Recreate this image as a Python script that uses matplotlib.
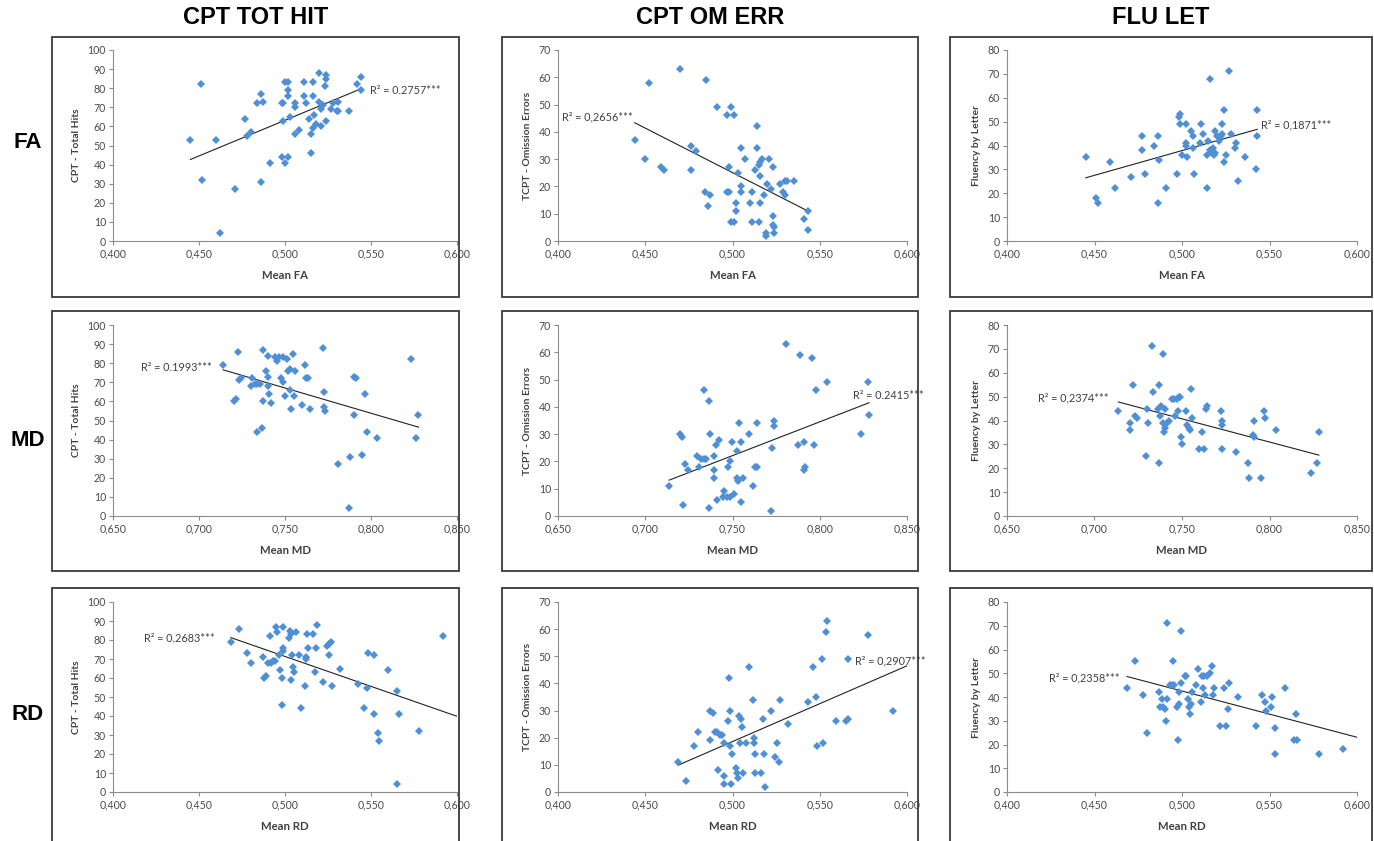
import numpy as np
import matplotlib
matplotlib.use("Agg")
import matplotlib.pyplot as plt
from matplotlib.patches import Rectangle
from matplotlib.ticker import FuncFormatter, MultipleLocator

# --- dados ------------------------------------------------------------
col_titles = ["CPT TOT HIT", "CPT OM ERR", "FLU LET"]
row_labels = ["FA", "MD", "RD"]
y_labels = ["CPT - Total Hits", "TCPT - Omission Errors", "Fluency by Letter"]
x_labels = ["Mean FA", "Mean MD", "Mean RD"]
r2_texts = [
    ["R² = 0.2757***", "R² = 0,2656***", "R² = 0,1871***"],
    ["R² = 0.1993***", "R² = 0.2415***", "R² = 0,2374***"],
    ["R² = 0.2683***", "R² = 0,2907***", "R² = 0,2358***"],
]

fa_hits_x = [0.445, 0.451, 0.452, 0.460, 0.462, 0.471, 0.477, 0.478, 0.480, 0.484, 0.486, 0.487, 0.486, 0.491,
             0.498, 0.499, 0.499, 0.498, 0.500, 0.502, 0.500, 0.502, 0.502, 0.502, 0.503, 0.506, 0.506, 0.506,
             0.508, 0.511, 0.511, 0.512, 0.516, 0.516, 0.514, 0.515, 0.515, 0.517, 0.516, 0.518, 0.520, 0.520,
             0.521, 0.521, 0.522, 0.523, 0.524, 0.524, 0.524, 0.527, 0.528, 0.530, 0.531, 0.531, 0.537, 0.542,
             0.544, 0.544]
fa_hits_y = [53, 82, 32, 53, 4, 27, 64, 55, 57, 72, 77, 73, 31, 41,
             72, 72, 63, 44, 41, 44, 83, 83, 79, 76, 65, 72, 70, 56,
             58, 83, 76, 72, 83, 76, 64, 56, 46, 66, 59, 61, 73, 88,
             69, 60, 71, 81, 87, 85, 63, 69, 72, 68, 73, 68, 68, 82,
             86, 79]

fa_om_x = [0.444, 0.450, 0.452, 0.459, 0.461, 0.470, 0.476, 0.479, 0.476, 0.484, 0.486, 0.487, 0.485, 0.491,
           0.497, 0.498, 0.499, 0.501, 0.497, 0.498, 0.499, 0.501, 0.502, 0.502, 0.503, 0.505, 0.507, 0.505,
           0.505, 0.510, 0.511, 0.511, 0.514, 0.514, 0.513, 0.515, 0.516, 0.515, 0.516, 0.517, 0.516, 0.518,
           0.519, 0.519, 0.521, 0.520, 0.522, 0.523, 0.523, 0.523, 0.524, 0.524, 0.527, 0.529, 0.530, 0.530,
           0.531, 0.535, 0.541, 0.543, 0.543]
fa_om_y = [37, 30, 58, 27, 26, 63, 35, 33, 26, 18, 13, 17, 59, 49,
           46, 27, 49, 46, 18, 18, 7, 7, 14, 11, 25, 34, 30, 20,
           18, 14, 7, 18, 42, 34, 26, 7, 14, 28, 29, 30, 24, 17,
           3, 2, 30, 21, 19, 9, 27, 6, 5, 3, 21, 18, 22, 17,
           22, 22, 8, 11, 4]

fa_flu_x = [0.445, 0.451, 0.452, 0.459, 0.4615, 0.471, 0.477, 0.477, 0.479, 0.484, 0.486, 0.487, 0.486, 0.491,
            0.497, 0.498, 0.499, 0.499, 0.500, 0.502, 0.502, 0.502, 0.503, 0.505, 0.506, 0.506, 0.507, 0.511,
            0.510, 0.512, 0.5145, 0.514, 0.515, 0.516, 0.516, 0.517, 0.5175, 0.518, 0.519, 0.519, 0.520, 0.521,
            0.522, 0.523, 0.523, 0.524, 0.524, 0.525, 0.527, 0.528, 0.530, 0.531, 0.532, 0.536, 0.542, 0.543,
            0.543]
fa_flu_y = [35, 18, 16, 33, 22, 27, 44, 38, 28, 40, 44, 34, 16, 22,
            28, 52, 53, 49, 36, 49, 41, 40, 35, 46, 44, 39, 28, 49,
            41, 45, 22, 36, 42, 68, 38, 37, 39, 36, 37, 46, 44, 42,
            44, 49, 45, 55, 33, 36, 71, 45, 39, 41, 25, 35, 30, 55,
            44]

md_hits_x = [0.714, 0.7206, 0.7216, 0.7225, 0.7235, 0.7245, 0.730, 0.731, 0.7324, 0.734, 0.7355, 0.734, 0.7367,
             0.7374, 0.7374, 0.739, 0.740, 0.740, 0.7403, 0.7405, 0.742, 0.7444, 0.7455, 0.7467, 0.7475, 0.7487,
             0.749, 0.750, 0.751, 0.752, 0.753, 0.753, 0.7535, 0.7545, 0.755, 0.756, 0.7597, 0.7616, 0.762,
             0.7635, 0.7645, 0.7719, 0.7726, 0.7726, 0.773, 0.7808, 0.7877, 0.7873, 0.790, 0.791, 0.7904, 0.795,
             0.7966, 0.7974, 0.8036, 0.8233, 0.8264, 0.8276]
md_hits_y = [79, 60, 61, 86, 71, 72, 68, 72, 69, 69, 69, 44, 46,
             87, 60, 76, 73, 68, 84, 64, 59, 83, 81, 83, 72, 70,
             83, 63, 82, 76, 77, 66, 56, 85, 63, 76, 58, 79, 72,
             72, 56, 88, 65, 57, 55, 27, 31, 4, 73, 72, 53, 32,
             64, 44, 41, 82, 41, 53]

md_om_x = [0.7137, 0.7202, 0.721, 0.7218, 0.723, 0.7243, 0.7294, 0.7306, 0.732, 0.7336, 0.735, 0.7338, 0.7367,
           0.737, 0.7367, 0.7394, 0.7396, 0.7394, 0.7405, 0.741, 0.742, 0.7447, 0.7453, 0.7466, 0.7472, 0.7486,
           0.7486, 0.7499, 0.751, 0.7528, 0.7528, 0.753, 0.7535, 0.755, 0.7547, 0.756, 0.7597, 0.7616, 0.763,
           0.764, 0.7643, 0.772, 0.7727, 0.7735, 0.7735, 0.7807, 0.7874, 0.7884, 0.7907, 0.7912, 0.7918, 0.7956,
           0.7968, 0.7976, 0.804, 0.8238, 0.8274, 0.8282]
md_om_y = [11, 30, 29, 4, 19, 17, 22, 18, 21, 21, 21, 46, 42,
           30, 3, 22, 17, 14, 26, 6, 28, 7, 9, 7, 18, 20,
           7, 27, 8, 24, 14, 13, 34, 27, 5, 14, 30, 11, 18,
           18, 34, 2, 25, 35, 33, 63, 26, 59, 17, 27, 18, 58,
           26, 46, 49, 30, 49, 37]

md_flu_x = [0.7137, 0.720, 0.720, 0.7218, 0.7233, 0.7245, 0.7296, 0.730, 0.7306, 0.7327, 0.7337, 0.736, 0.7367,
            0.7367, 0.7373, 0.738, 0.739, 0.7394, 0.7398, 0.7402, 0.7405, 0.7415, 0.7428, 0.7459, 0.7444, 0.7457,
            0.7469, 0.7482, 0.749, 0.7478, 0.7494, 0.7501, 0.7524, 0.753, 0.754, 0.7547, 0.7551, 0.7559, 0.7597,
            0.7616, 0.7624, 0.7635, 0.7645, 0.7721, 0.7727, 0.7731, 0.7731, 0.7807, 0.7876, 0.7884, 0.7903,
            0.7909, 0.7913, 0.7953, 0.7966, 0.7974, 0.8037, 0.8238, 0.8273, 0.8282]
md_flu_y = [44, 39, 36, 55, 42, 41, 25, 45, 39, 71, 52, 45, 55,
            22, 42, 46, 68, 39, 35, 45, 37, 39, 40, 42, 49, 49,
            49, 50, 50, 44, 33, 30, 44, 38, 37, 36, 53, 41, 28,
            35, 28, 45, 46, 44, 40, 38, 28, 27, 22, 16, 34,
            33, 40, 16, 44, 41, 36, 18, 22, 35]

rd_hits_x = [0.4685, 0.4734, 0.4777, 0.480, 0.4874, 0.488, 0.4887, 0.4903, 0.4913, 0.4916, 0.4928, 0.494, 0.4948,
             0.4955, 0.4963, 0.4971, 0.4981, 0.4983, 0.499, 0.499, 0.499, 0.5021, 0.5029, 0.5033, 0.5037, 0.5041,
             0.5049, 0.5052, 0.5064, 0.5083, 0.5091, 0.5122, 0.5122, 0.5118, 0.513, 0.5136, 0.5165, 0.5173,
             0.518, 0.5188, 0.5223, 0.5243, 0.5254, 0.5266, 0.5258, 0.5272, 0.532, 0.5427, 0.5476, 0.546, 0.548,
             0.5518, 0.5515, 0.5538, 0.5544, 0.5598, 0.565, 0.5654, 0.5664, 0.5779, 0.5918]
rd_hits_y = [79, 86, 73, 68, 71, 60, 61, 68, 82, 68, 69, 69, 87,
             84, 72, 64, 46, 60, 87, 76, 74, 81, 85, 59, 83, 72,
             66, 63, 84, 72, 44, 71, 70, 56, 83, 76, 83, 63,
             76, 88, 58, 77, 78, 79, 72, 56, 65, 57, 55, 44, 73,
             72, 41, 31, 27, 64, 4, 53, 41, 32, 82]

rd_om_x = [0.4688, 0.4736, 0.4778, 0.4802, 0.4873, 0.4873, 0.4888, 0.4898, 0.4911, 0.4917, 0.4927, 0.4938, 0.495,
           0.4951, 0.495, 0.4974, 0.498, 0.4984, 0.4984, 0.4995, 0.4993, 0.5018, 0.5026, 0.5034, 0.5037, 0.5041,
           0.5049, 0.5053, 0.506, 0.5079, 0.5095, 0.5118, 0.5121, 0.5121, 0.5129, 0.5129, 0.5164, 0.5175, 0.5183,
           0.5188, 0.5221, 0.5244, 0.5257, 0.5267, 0.5274, 0.532, 0.5431, 0.5462, 0.5477, 0.5485, 0.5515,
           0.5519, 0.5538, 0.5544, 0.5595, 0.5649, 0.5662, 0.5664, 0.5779, 0.592]
rd_om_y = [11, 4, 17, 22, 30, 19, 29, 22, 22, 8, 21, 21, 18,
           6, 3, 26, 42, 30, 17, 14, 3, 9, 7, 5, 28, 18,
           27, 24, 7, 18, 46, 34, 20, 18, 14, 7, 7, 27, 14,
           2, 30, 13, 18, 11, 34, 25, 33, 46, 35, 17, 49,
           18, 59, 63, 26, 26, 27, 49, 58, 30]

rd_flu_x = [0.4686, 0.4733, 0.4775, 0.4798, 0.487, 0.4876, 0.4886, 0.4893, 0.4901, 0.491, 0.4916, 0.4916, 0.4933,
            0.4943, 0.4947, 0.4954, 0.4973, 0.4977, 0.4981, 0.4985, 0.4992, 0.4992, 0.5015, 0.5025, 0.5034,
            0.5038, 0.5046, 0.505, 0.5057, 0.508, 0.5091, 0.511, 0.5114, 0.5118, 0.5126, 0.5133, 0.5143, 0.5162,
            0.5171, 0.5179, 0.5183, 0.5219, 0.524, 0.5253, 0.5263, 0.5271, 0.5318, 0.5425, 0.5457, 0.5472, 0.548,
            0.5514, 0.551, 0.5533, 0.553, 0.559, 0.5638, 0.5651, 0.5657, 0.5781, 0.5918]
rd_flu_y = [44, 55, 41, 25, 42, 36, 39, 36, 35, 30, 39, 71, 45,
            45, 55, 45, 36, 22, 42, 37, 46, 68, 49, 49, 39,
            36, 33, 37, 42, 45, 52, 38, 49, 44, 49, 41, 49, 50,
            53, 41, 44, 28, 44, 28, 35, 46, 40, 28, 41, 38, 34,
            40, 36, 27, 16, 44, 22, 33, 22, 16, 18]

panel_x = [[fa_hits_x, fa_om_x, fa_flu_x],
           [md_hits_x, md_om_x, md_flu_x],
           [rd_hits_x, rd_om_x, rd_flu_x]]
panel_y = [[fa_hits_y, fa_om_y, fa_flu_y],
           [md_hits_y, md_om_y, md_flu_y],
           [rd_hits_y, rd_om_y, rd_flu_y]]

# --- layout (pixels) ----------------------------------------------------
W, H = 1374, 841
x_lims = [(0.400, 0.600), (0.650, 0.850), (0.400, 0.600)]
y_lims = [(0, 100, 10), (0, 70, 10), (0, 80, 10)]
plot_cols = [(113, 457), (558, 907), (1007, 1357)]
plot_rows = [(50, 241), (325, 516), (602, 792)]
box_cols = [(52, 459), (502, 918), (950, 1372)]
box_rows = [(37, 297), (311, 571), (588, 850)]
r2_pos = [
    [(0.5494, 79, "left"), (0.4025, 45.5, "left"), (0.5453, 48.8, "left")],
    [(0.6662, 77.7, "left"), (0.819, 44, "left"), (0.668, 49.3, "left")],
    [(0.418, 80.7, "left"), (0.570, 48.2, "left"), (0.4238, 48.1, "left")],
]
trend_to_edge = [False, False, True]

blue = "#4F8FD6"
axis_gray = "#8C8C8C"
txt_gray = "#4A4A4A"
small_font = "Lato"

fig = plt.figure(figsize=(W / 100, H / 100), dpi=100)


def rect(l, r, t, b):
    return [l / W, 1 - b / H, (r - l) / W, (b - t) / H]


comma = FuncFormatter(lambda v, p: f"{v:.3f}".replace(".", ","))

for i in range(3):
    for j in range(3):
        bl, br = box_cols[j]
        bt, bb = box_rows[i]
        fig.patches.append(Rectangle((bl / W, 1 - bb / H), (br - bl) / W, (bb - bt) / H,
                                     transform=fig.transFigure, fill=False,
                                     edgecolor="#3A3A3A", linewidth=1.3))

        ax = fig.add_axes(rect(*plot_cols[j], *plot_rows[i]))
        x = np.array(panel_x[i][j])
        y = np.array(panel_y[i][j])
        ax.plot(x, y, "D", color=blue, ms=3.9, mew=0, zorder=3, clip_on=False)

        k, b = np.polyfit(x, y, 1)
        x_end = x_lims[i][1] if trend_to_edge[i] else x.max()
        xs = np.array([x.min(), x_end])
        ax.plot(xs, k * xs + b, color="#222222", lw=0.8, zorder=2)

        tx, ty, ha = r2_pos[i][j]
        ax.text(tx, ty, r2_texts[i][j], fontsize=7.8, family=small_font, color="#404040",
                ha=ha, va="center", zorder=4)

        ax.set_xlim(*x_lims[i])
        ax.set_ylim(y_lims[j][0], y_lims[j][1])
        ax.xaxis.set_major_locator(MultipleLocator(0.05))
        ax.yaxis.set_major_locator(MultipleLocator(y_lims[j][2]))
        ax.xaxis.set_major_formatter(comma)
        for s in ["top", "right"]:
            ax.spines[s].set_visible(False)
        for s in ["left", "bottom"]:
            ax.spines[s].set_color(axis_gray)
            ax.spines[s].set_linewidth(0.8)
        ax.tick_params(axis="both", direction="out", length=3, width=0.8, color=axis_gray,
                       labelsize=7.6, labelcolor=txt_gray, pad=2)
        for lab in ax.get_xticklabels() + ax.get_yticklabels():
            lab.set_family(small_font)
        ax.set_xlabel(x_labels[i], fontsize=8.2, fontweight="bold", family=small_font,
                      color="#404040", labelpad=8)
        ax.set_ylabel(y_labels[j], fontsize=7.5, fontweight="bold", family=small_font,
                      color="#404040", labelpad=5)
        ax.patch.set_alpha(0)

for j, t in enumerate(col_titles):
    cx = (box_cols[j][0] + box_cols[j][1]) / 2
    fig.text(cx / W, 1 - 18 / H, t, ha="center", va="center", fontsize=17,
             fontweight="bold", family="Liberation Sans")
row_centers = [143, 440, 715]
for i, t in enumerate(row_labels):
    fig.text(28 / W, 1 - row_centers[i] / H, t, ha="center", va="center", fontsize=16,
             fontweight="bold", family="Liberation Sans")

fig.savefig("out.png", dpi=100, facecolor="white")
